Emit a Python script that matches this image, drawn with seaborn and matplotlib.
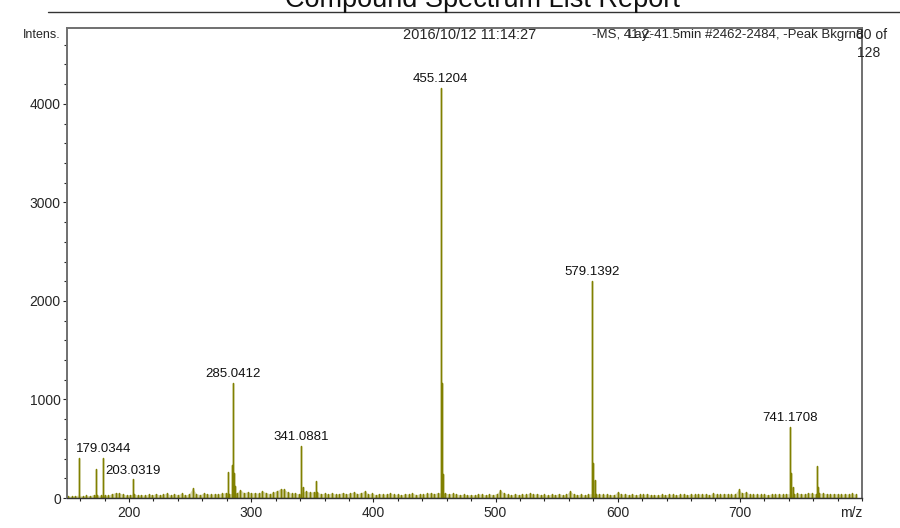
import numpy as np
import matplotlib
matplotlib.use('Agg')
import matplotlib.pyplot as plt
import seaborn as sns
from matplotlib.lines import Line2D
from matplotlib.ticker import MultipleLocator

PEAK_MZ = [159.0, 173.0, 179.03, 203.03, 281.0, 284.0, 285.04, 285.3, 286.05, 287.0,
           341.09, 342.1, 353.0, 455.12, 455.3, 456.12, 457.12, 579.14, 579.3, 580.14,
           581.14, 741.17, 741.4, 742.17, 743.2, 763.15, 764.15]
PEAK_INT = [405, 295, 410, 190, 265, 330, 1170, 600, 250, 120,
            530, 110, 175, 4160, 3250, 1165, 240, 2200, 1350, 355,
            180, 720, 405, 250, 110, 325, 110]

# etiquetas de los picos
LABEL_MZ = [179.0344, 203.0319, 285.0412, 341.0881, 455.1204, 579.1392, 741.1708]
LABEL_INT = [410, 190, 1170, 530, 4160, 2200, 720]

# ruido de fondo, muestreado cada 3 m/z desde 150
NOISE_INT = [22, 18, 25, 30, 20, 28, 24, 35, 30, 26,
             30, 28, 45, 55, 50, 38, 30, 35, 42, 30,
             35, 28, 40, 32, 45, 30, 38, 50, 28, 42,
             35, 48, 30, 40, 100, 45, 35, 50, 42, 38,
             44, 40, 48, 55, 45, 48, 52, 85, 55, 62,
             50, 55, 48, 72, 55, 45, 58, 75, 95, 88,
             60, 48, 52, 40, 62, 70, 58, 65, 60, 45,
             48, 40, 52, 38, 45, 55, 42, 50, 62, 45,
             55, 72, 40, 48, 35, 45, 38, 42, 50, 36,
             40, 32, 45, 38, 50, 35, 42, 38, 48, 52,
             45, 55, 50, 48, 42, 46, 40, 35, 38, 32,
             35, 30, 42, 38, 32, 40, 35, 45, 82, 48,
             38, 32, 42, 35, 40, 36, 52, 38, 44, 34,
             36, 30, 40, 34, 45, 32, 38, 70, 40, 35,
             38, 32, 40, 45, 38, 42, 36, 40, 35, 34,
             62, 38, 42, 35, 40, 32, 38, 36, 44, 32,
             35, 30, 38, 34, 40, 36, 32, 38, 42, 35,
             40, 36, 44, 38, 42, 35, 46, 40, 38, 45,
             42, 38, 40, 88, 50, 62, 40, 38, 42, 36,
             40, 35, 42, 38, 44, 36, 45, 42, 40, 48,
             45, 40, 52, 48, 42, 50, 46, 44, 40, 45,
             42, 38, 44, 40, 46, 38]
NOISE_MZ = np.arange(150, 150 + 3 * len(NOISE_INT), 3)

Y_TICKS = [0, 1000, 2000, 3000, 4000]
X_TICKS = [200, 300, 400, 500, 600, 700]

COLOR = '#808000'

mz = np.concatenate([NOISE_MZ, PEAK_MZ])
inten = np.concatenate([NOISE_INT, PEAK_INT])
order = np.argsort(mz)
mz, inten = mz[order], inten[order]

# espectro de barras: cada pico sube desde 0 y vuelve a 0
stick_x = np.repeat(mz, 3)
stick_y = np.column_stack([np.zeros_like(inten), inten, np.zeros_like(inten)]).ravel()

sns.set_style('ticks')
plt.rcParams['font.family'] = ['Liberation Sans', 'DejaVu Sans']

fig = plt.figure(figsize=(9, 5.28), dpi=100)
ax = fig.add_axes([67 / 900, 1 - 498 / 528, 795 / 900, 470 / 528])

ax.fill_between(NOISE_MZ, 0, NOISE_INT, color=COLOR, alpha=0.3, linewidth=0)
sns.lineplot(x=stick_x, y=stick_y, ax=ax, estimator=None, sort=False, color=COLOR, linewidth=1.0)

for m, h in zip(LABEL_MZ, LABEL_INT):
    ax.annotate(f'{m:.4f}', xy=(m, h), xytext=(0, 2), textcoords='offset points',
                ha='center', va='bottom', fontsize=9.5, color='#111111')

ax.set_xlim(149.2, 800)
ax.set_ylim(0, 4770)
ax.set_xticks(X_TICKS)
ax.set_yticks(Y_TICKS)
ax.xaxis.set_minor_locator(MultipleLocator(20))
ax.yaxis.set_minor_locator(MultipleLocator(200))
ax.tick_params(which='major', direction='out', length=3, width=0.8, labelsize=10, pad=1.5)
ax.tick_params(axis='x', which='major', pad=2.5)
ax.tick_params(which='minor', direction='out', length=2.5, width=0.8)
ax.set_xlabel('')
ax.set_ylabel('')

for side in ['top', 'right', 'left']:
    ax.spines[side].set_color('#707070')
    ax.spines[side].set_linewidth(1.4)
ax.spines['bottom'].set_color('#333333')
ax.spines['bottom'].set_linewidth(1.0)

# cabecera del informe
fig.text(482 / 900, 1 - 7 / 528, 'Compound Spectrum List Report', ha='center', va='baseline',
         fontsize=19.5, color='#111111')
fig.add_artist(Line2D([48 / 900, 1], [1 - 12 / 528, 1 - 12 / 528], color='#333333', linewidth=1.0))

fig.text(60 / 900, 1 - 35 / 528, 'Intens.', ha='right', va='center', fontsize=9)
fig.text(470 / 900, 1 - 35 / 528, '2016/10/12 11:14:27', ha='center', va='center', fontsize=10.5)
fig.text(592 / 900, 1 - 35 / 528, '-MS, 41.2-41.5min #2462-2484, -Peak Bkgrnd', ha='left',
         va='center', fontsize=9.5)
fig.text(628 / 900, 1 - 35 / 528, 'Lay:', ha='left', va='center', fontsize=9.5)
fig.text(887 / 900, 1 - 35 / 528, '80 of', ha='right', va='center', fontsize=10)
fig.text(880 / 900, 1 - 53 / 528, '128', ha='right', va='center', fontsize=10)
fig.text(862 / 900, 1 - 513 / 528, 'm/z', ha='right', va='center', fontsize=10)

plt.savefig('out.png', dpi=100)
